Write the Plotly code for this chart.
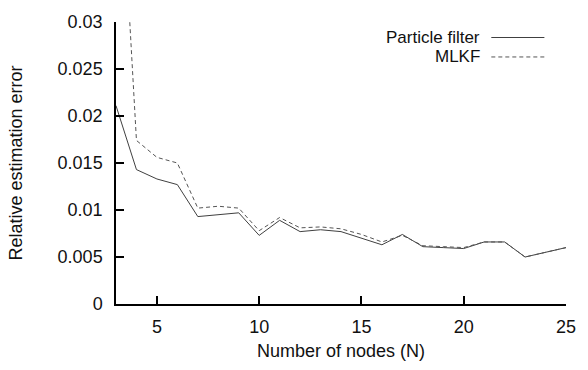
import plotly.graph_objects as go

nodes = list(range(3, 26))
particle_filter = [0.0211, 0.0143, 0.0133, 0.0127, 0.0093, 0.0095, 0.0097, 0.0073,
                   0.0089, 0.0077, 0.0079, 0.0077, 0.0070, 0.0063, 0.0074, 0.0061,
                   0.0060, 0.0059, 0.0066, 0.0066, 0.0050, 0.0055, 0.0060]
mlkf = [0.0560, 0.0174, 0.0156, 0.0150, 0.0102, 0.0104, 0.0102, 0.0078,
        0.0092, 0.0081, 0.0082, 0.0080, 0.0074, 0.0066, 0.0073, 0.0062,
        0.0061, 0.0060, 0.0066, 0.0066, 0.0050, 0.0055, 0.0060]
x_ticks = [5, 10, 15, 20, 25]
y_ticks = [0, 0.005, 0.01, 0.015, 0.02, 0.025, 0.03]
y_tick_labels = ["0", "0.005", "0.01", "0.015", "0.02", "0.025", "0.03"]
series_names = ["Particle filter", "MLKF"]

FONT = "Liberation Sans, Arial, Helvetica, sans-serif"
FS = 18

fig = go.Figure()
fig.add_trace(go.Scatter(x=nodes, y=particle_filter, mode="lines", name=series_names[0],
                         line=dict(color="#404040", width=1), showlegend=False))
fig.add_trace(go.Scatter(x=nodes, y=mlkf, mode="lines", name=series_names[1],
                         line=dict(color="#555555", width=1, dash="4px,3px"), showlegend=False))

# gnuplot-style legend: text right-aligned, line sample to the right
legend_y = [0.945, 0.876]
dashes = ["solid", "4px,3px"]
colors = ["#404040", "#555555"]
for name, yy, d, c in zip(series_names, legend_y, dashes, colors):
    fig.add_annotation(x=0.810, y=yy, xref="paper", yref="paper", text=name,
                       showarrow=False, xanchor="right", yanchor="middle",
                       borderpad=0,
                       font=dict(family=FONT, size=17, color="#111111"))
    fig.add_shape(type="line", xref="paper", yref="paper", x0=0.834, x1=0.952,
                  y0=yy, y1=yy, line=dict(color=c, width=1, dash=d))

axis_common = dict(showline=True, linecolor="black", linewidth=1.5, ticks="inside",
                   ticklen=8, tickwidth=1.5, tickcolor="black", showgrid=False,
                   zeroline=False, mirror=False,
                   tickfont=dict(family=FONT, size=FS, color="#111111"))

fig.update_xaxes(range=[3, 25], tickvals=x_ticks, ticktext=[str(v) for v in x_ticks],
                 title=dict(text="Number of nodes (N)", standoff=8,
                            font=dict(family=FONT, size=FS, color="#111111")),
                 ticklabelstandoff=6, **axis_common)
fig.update_yaxes(range=[0, 0.03], tickvals=y_ticks, ticktext=y_tick_labels,
                 title=dict(text="Relative estimation error", standoff=30,
                            font=dict(family=FONT, size=FS, color="#111111")),
                 ticklabelstandoff=8, **axis_common)

fig.update_layout(width=588, height=370, margin=dict(l=116, r=14, t=15, b=58),
                  plot_bgcolor="white", paper_bgcolor="white", showlegend=False)

fig.write_html("out.html")
